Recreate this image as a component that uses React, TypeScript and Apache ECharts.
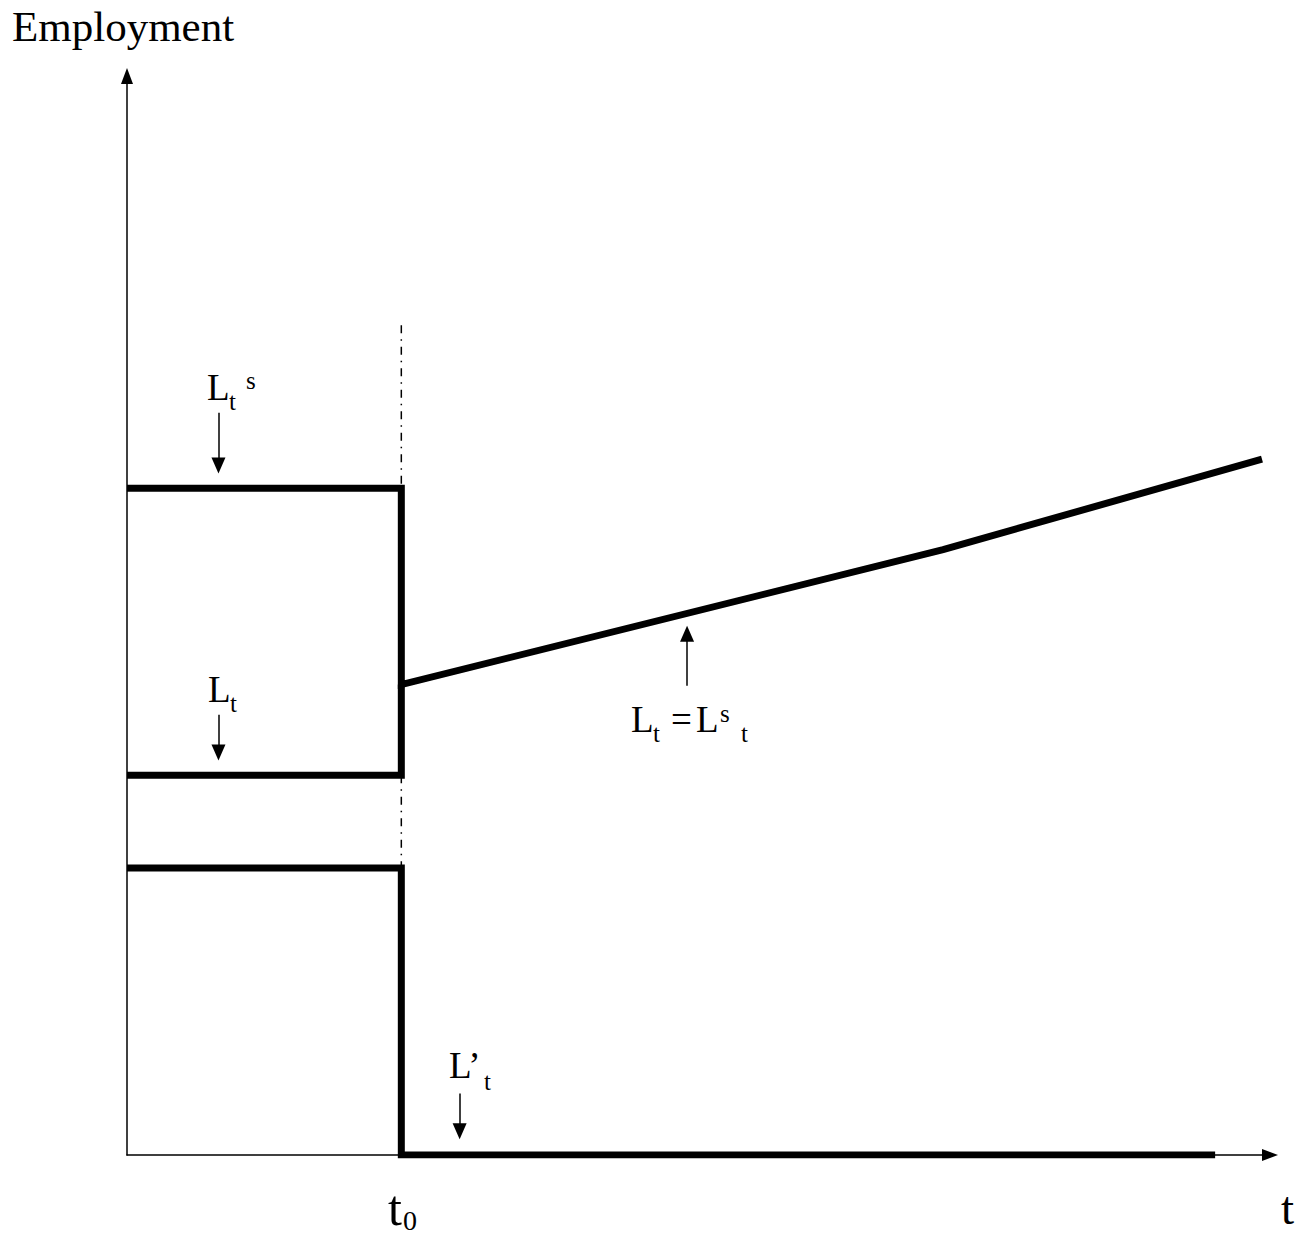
import React, { useEffect, useRef } from "react";
import * as echarts from "echarts";

// Abstract units: x 0..10 (time), y 0..10 (employment)
const T0 = 2.4;
const supplyPath: [number, number][] = [
  [0, 6.18],
  [T0, 6.18],
  [T0, 4.36],
  [7.14, 5.61],
  [9.93, 6.45],
];
const employmentPath: [number, number][] = [
  [0, 3.52],
  [T0, 3.52],
  [T0, 4.36],
];
const altPath: [number, number][] = [
  [0, 2.66],
  [T0, 2.66],
  [T0, 0],
  [9.52, 0],
];
const guideUpper: [number, number][] = [
  [T0, 7.69],
  [T0, 6.18],
];
const guideLower: [number, number][] = [
  [T0, 3.52],
  [T0, 2.66],
];
// annotation arrows: [x, yStart, yEnd]
const arrows: [number, number, number][] = [
  [0.8, 6.88, 6.39],
  [0.8, 4.08, 3.73],
  [4.9, 4.35, 4.83],
  [2.91, 0.57, 0.22],
];

const FONT = "'Liberation Serif', 'Times New Roman', serif";

function txt(text: string, x: number, baseline: number, fs: number) {
  return {
    type: "text",
    x,
    y: baseline - 0.3375 * fs,
    z: 10,
    style: {
      text,
      fontSize: fs,
      fontFamily: FONT,
      fill: "#000",
      align: "left",
      verticalAlign: "middle",
    },
  };
}

export default function App() {
  const ref = useRef<HTMLDivElement>(null);
  useEffect(() => {
    if (!ref.current) return;
    const chart = echarts.init(ref.current, undefined, { renderer: "svg" });
    const thick = { color: "#000", width: 7, cap: "butt", join: "miter" };
    const guide = { color: "#000", width: 1.5, type: [8, 6, 1.5, 6] };
    const axisCommon = {
      type: "value",
      min: 0,
      max: 10,
      splitLine: { show: false },
      axisTick: { show: false },
      axisLabel: { show: false },
      axisLine: {
        show: true,
        onZero: false,
        symbol: ["none", "triangle"],
        symbolSize: [12, 16],
        lineStyle: { color: "#000", width: 1.5 },
      },
    };
    chart.setOption({
      animation: false,
      backgroundColor: "#fff",
      grid: { left: 127, top: 76, right: 37, bottom: 81, containLabel: false },
      xAxis: { ...axisCommon },
      yAxis: { ...axisCommon },
      series: [
        {
          type: "line",
          data: supplyPath,
          showSymbol: false,
          lineStyle: thick,
          z: 5,
        },
        {
          type: "line",
          data: employmentPath,
          showSymbol: false,
          lineStyle: thick,
          z: 5,
        },
        {
          type: "line",
          data: altPath,
          showSymbol: false,
          lineStyle: thick,
          z: 5,
        },
        {
          type: "line",
          data: guideUpper,
          showSymbol: false,
          lineStyle: guide,
          z: 4,
        },
        {
          type: "line",
          data: guideLower,
          showSymbol: false,
          lineStyle: guide,
          z: 4,
          markLine: {
            silent: true,
            symbol: ["none", "triangle"],
            symbolSize: [14, 16],
            label: { show: false },
            lineStyle: { color: "#000", width: 1.5, type: "solid" },
            data: arrows.map(([x, y1, y2]) => [
              { coord: [x, y1] },
              { coord: [x, y2] },
            ]),
          },
        },
      ],
      graphic: [
        txt("Employment", 12, 41, 43),
        txt("L", 207, 400, 37),
        txt("t", 229, 410, 25),
        txt("s", 246, 389, 25),
        txt("L", 208, 702, 37),
        txt("t", 230, 712, 25),
        txt("L", 631, 732, 37),
        txt("t", 653, 742, 25),
        txt("=", 671, 732, 37),
        txt("L", 696, 732, 37),
        txt("s", 720, 722, 25),
        txt("t", 741, 742, 25),
        txt("L\u2019", 449, 1078, 37),
        txt("t", 484, 1090, 25),
        txt("t", 388, 1225, 50),
        txt("0", 403, 1230, 28),
        txt("t", 1281, 1224, 47),
      ],
    });
    return () => chart.dispose();
  }, []);
  return (
    <div
      ref={ref}
      style={{ position: "absolute", left: 0, top: 0, width: 1307, height: 1236 }}
    />
  );
}
